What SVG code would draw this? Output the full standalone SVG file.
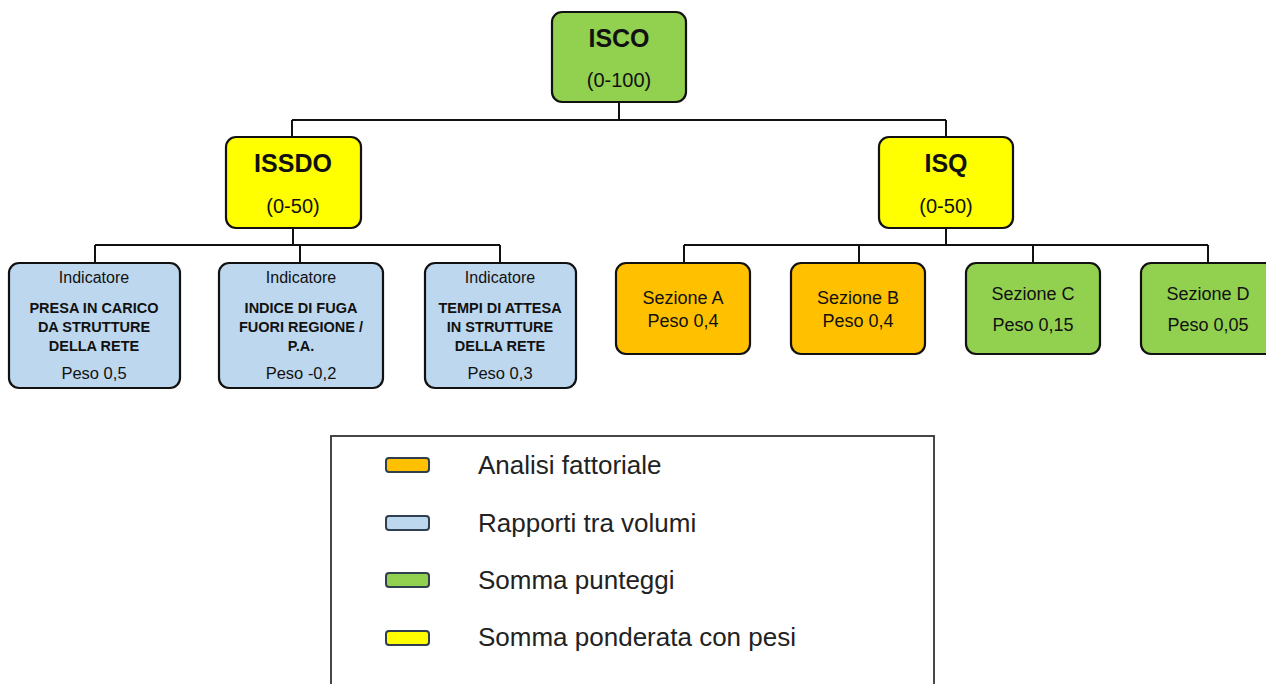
<svg xmlns="http://www.w3.org/2000/svg" width="1266" height="684" viewBox="0 0 1266 684">
<style>
text{font-family:"Liberation Sans",Arial,sans-serif;fill:#111;text-anchor:middle}
.box{stroke:#111;stroke-width:2.2}
.g{fill:#92D050}.y{fill:#FFFF00}.b{fill:#BDD7EE}.o{fill:#FFC000}
.t1{font-size:25px;font-weight:bold}
.t2{font-size:20px}
.ind{font-size:16px}
.bd{font-size:14.5px;font-weight:bold}
.pw{font-size:16.5px}
.sz{font-size:18px}
.lg{font-size:26px;text-anchor:start;fill:#222}
.sw{stroke:#2f3f4f;stroke-width:2}
.con{stroke:#111;stroke-width:2;fill:none}
</style>
<rect width="1266" height="684" fill="#fff"/>
<g id="connectors" class="con">
<path d="M619 102V120M292 120H946M292 120V137M946 120V137"/>
<path d="M293 228V245M95 245H500M95 245V263M300 245V263M500 245V263"/>
<path d="M946 228V245M684 245H1208M684 245V263M859 245V263M1033 245V263M1208 245V263"/>
</g>
<g id="isco"><rect class="box g" x="552" y="12" width="134" height="90" rx="10"/><text class="t1" x="619" y="47">ISCO</text><text class="t2" x="619" y="87">(0-100)</text></g>
<g id="issdo"><rect class="box y" x="226" y="137" width="135" height="91" rx="10"/><text class="t1" x="293" y="172">ISSDO</text><text class="t2" x="293" y="213">(0-50)</text></g>
<g id="isq"><rect class="box y" x="879" y="137" width="134" height="91" rx="10"/><text class="t1" x="946" y="172">ISQ</text><text class="t2" x="946" y="213">(0-50)</text></g>
<g id="ind1"><rect class="box b" x="9" y="263" width="171" height="125" rx="10"/><text class="ind" x="94" y="283">Indicatore</text><text class="bd" x="94" y="313">PRESA IN CARICO</text><text class="bd" x="94" y="332">DA STRUTTURE</text><text class="bd" x="94" y="351">DELLA RETE</text><text class="pw" x="94" y="379">Peso 0,5</text></g>
<g id="ind2"><rect class="box b" x="219" y="263" width="164" height="125" rx="10"/><text class="ind" x="301" y="283">Indicatore</text><text class="bd" x="301" y="313">INDICE DI FUGA</text><text class="bd" x="301" y="332">FUORI REGIONE /</text><text class="bd" x="301" y="351">P.A.</text><text class="pw" x="301" y="379">Peso -0,2</text></g>
<g id="ind3"><rect class="box b" x="425" y="263" width="151" height="125" rx="10"/><text class="ind" x="500" y="283">Indicatore</text><text class="bd" x="500" y="313">TEMPI DI ATTESA</text><text class="bd" x="500" y="332">IN STRUTTURE</text><text class="bd" x="500" y="351">DELLA RETE</text><text class="pw" x="500" y="379">Peso 0,3</text></g>
<g id="sezA"><rect class="box o" x="616" y="263" width="134" height="91" rx="10"/><text class="sz" x="683" y="304">Sezione A</text><text class="sz" x="683" y="327">Peso 0,4</text></g>
<g id="sezB"><rect class="box o" x="791" y="263" width="134" height="91" rx="10"/><text class="sz" x="858" y="304">Sezione B</text><text class="sz" x="858" y="327">Peso 0,4</text></g>
<g id="sezC"><rect class="box g" x="966" y="263" width="134" height="91" rx="10"/><text class="sz" x="1033" y="300">Sezione C</text><text class="sz" x="1033" y="331">Peso 0,15</text></g>
<g id="sezD"><rect class="box g" x="1141" y="263" width="134" height="91" rx="10"/><text class="sz" x="1208" y="300">Sezione D</text><text class="sz" x="1208" y="331">Peso 0,05</text></g>
<g id="legend">
<rect x="331" y="436" width="603" height="260" fill="#fff" stroke="#333" stroke-width="1.8"/>
<rect class="sw o" x="386" y="458" width="43" height="14" rx="3"/>
<rect class="sw b" x="386" y="516" width="43" height="14" rx="3"/>
<rect class="sw g" x="386" y="573" width="43" height="14" rx="3"/>
<rect class="sw y" x="386" y="631" width="43" height="14" rx="3"/>
<text class="lg" x="478" y="474">Analisi fattoriale</text>
<text class="lg" x="478" y="532">Rapporti tra volumi</text>
<text class="lg" x="478" y="589">Somma punteggi</text>
<text class="lg" x="478" y="646">Somma ponderata con pesi</text>
</g>
</svg>
